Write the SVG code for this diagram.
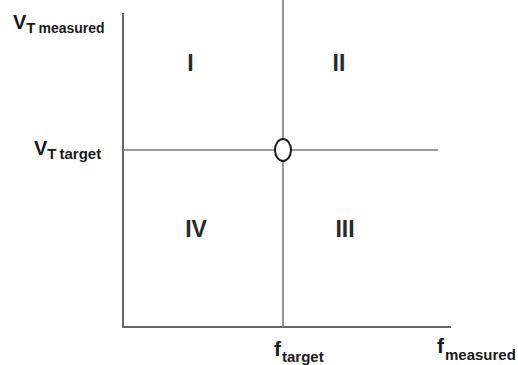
<svg xmlns="http://www.w3.org/2000/svg" width="518" height="365" viewBox="0 0 518 365">
  <style>
    .ax { stroke: #666666; stroke-width: 2; fill: none; }
    .grid { stroke: #7a7a7a; stroke-width: 1.6; fill: none; }
    .lbl { font-family: "Liberation Sans", Arial, sans-serif; font-weight: bold; fill: #1a1a1a; }
    .num { font-family: "Liberation Sans", Arial, sans-serif; font-weight: bold; fill: #2a2a2a; font-size: 23px; }
  </style>
  <rect width="518" height="365" fill="#ffffff"/>
  <g id="connectors">
    <!-- axes -->
    <polyline class="ax" points="123,13 123,327 451,327"/>
    <!-- target lines -->
    <line class="grid" x1="283" y1="0" x2="283" y2="327"/>
    <line class="grid" x1="123" y1="150" x2="438" y2="150"/>
  </g>
  <g id="target-point">
    <ellipse cx="283" cy="150" rx="8" ry="11" fill="#ffffff" stroke="#1a1a1a" stroke-width="2"/>
  </g>
  <g id="axis-labels">
    <text class="lbl" x="13" y="29" font-size="20">V<tspan font-size="15" dy="4">T</tspan><tspan font-size="14" dx="3">measured</tspan></text>
    <text class="lbl" x="34" y="155" font-size="20">V<tspan font-size="15" dy="4">T</tspan><tspan font-size="15" dx="3">target</tspan></text>
    <text class="lbl" x="274" y="356" font-size="21">f<tspan font-size="15" dy="6" dx="1">target</tspan></text>
    <text class="lbl" x="437" y="353" font-size="21">f<tspan font-size="15" dy="7" dx="1">measured</tspan></text>
  </g>
  <g id="quadrant-I"><text class="num" x="190.5" y="71" text-anchor="middle">I</text></g>
  <g id="quadrant-II"><text class="num" x="339" y="71" text-anchor="middle">II</text></g>
  <g id="quadrant-III"><text class="num" x="345" y="237" text-anchor="middle">III</text></g>
  <g id="quadrant-IV"><text class="num" x="196" y="237" text-anchor="middle">IV</text></g>
</svg>
